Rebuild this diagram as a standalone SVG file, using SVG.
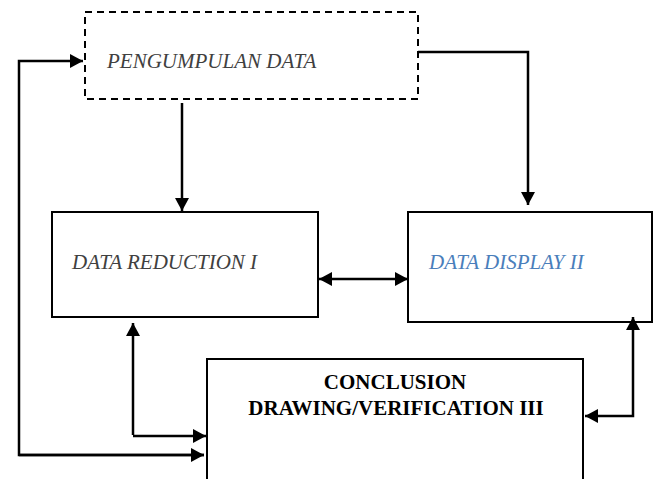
<svg xmlns="http://www.w3.org/2000/svg" width="655" height="479" viewBox="0 0 655 479">
<style>
.box{fill:#fff;stroke:#000;stroke-width:2}
.dash{fill:none;stroke:#000;stroke-width:2;stroke-dasharray:7,5}
.it{font-family:"Liberation Serif","Times New Roman",serif;font-style:italic;font-size:21px;fill:#404040}
.bl{font-family:"Liberation Serif","Times New Roman",serif;font-weight:bold;font-size:21px;fill:#000;text-anchor:middle}
.c{fill:none;stroke:#000;stroke-width:2.5}
</style>
<defs>
<marker id="ah" markerUnits="userSpaceOnUse" markerWidth="13" markerHeight="14" refX="13" refY="7" orient="auto-start-reverse" viewBox="0 0 13 14">
<path d="M0,0 L13,7 L0,14 z" fill="#000"/>
</marker>
</defs>
<g id="pengumpulan">
<rect class="dash" x="85" y="12" width="333" height="87"/>
<text class="it" x="107" y="68">PENGUMPULAN DATA</text>
</g>
<g id="reduction">
<rect class="box" x="52" y="212" width="266" height="105"/>
<text class="it" x="72" y="269">DATA REDUCTION I</text>
</g>
<g id="display">
<rect class="box" x="408" y="212" width="244" height="110"/>
<text class="it" x="429" y="269" style="fill:#4a7ebb">DATA DISPLAY II</text>
</g>
<g id="conclusion">
<rect class="box" x="207" y="359" width="376" height="125"/>
<text class="bl" x="395" y="389">CONCLUSION</text>
<text class="bl" x="396" y="415">DRAWING/VERIFICATION III</text>
</g>
<g id="connectors">
<path class="c" d="M182,103 L182,211" marker-end="url(#ah)"/>
<path class="c" d="M418,52 L528,52 L528,205" marker-end="url(#ah)"/>
<path class="c" d="M319,279 L408,279" marker-start="url(#ah)" marker-end="url(#ah)"/>
<path class="c" d="M133,435 L133,323" marker-end="url(#ah)"/>
<path class="c" d="M133,436 L206,436" marker-end="url(#ah)"/>
<path class="c" d="M204,455 L19,455 L19,61 L83,61" marker-end="url(#ah)"/>
<path class="c" d="M19,455 L204,455" marker-end="url(#ah)"/>
<path class="c" d="M585,416 L633,416 L633,317" marker-start="url(#ah)" marker-end="url(#ah)"/>
</g>
</svg>
